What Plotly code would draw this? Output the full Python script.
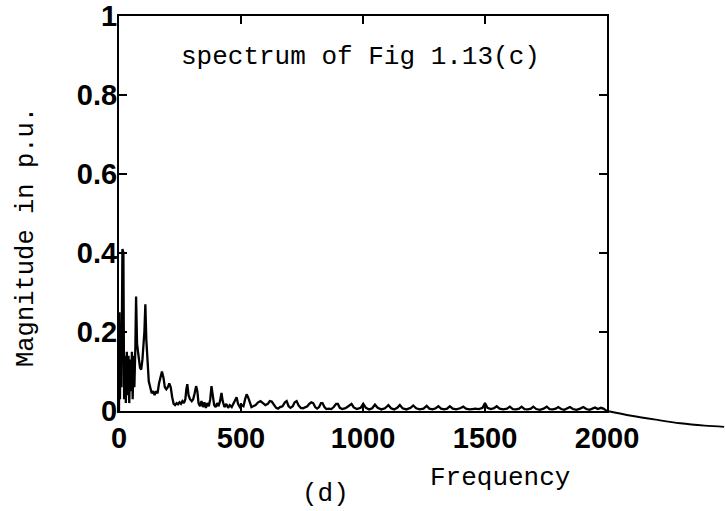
import plotly.graph_objects as go

# ---------------- data ----------------
freq = [
    0, 2, 4, 7, 10, 14, 18, 21, 25, 28, 32, 35, 39, 42, 46, 49, 53, 56, 60, 63,
    67, 70, 74, 80, 86, 91, 96, 104, 108, 112, 117, 122, 128, 134, 140, 146, 152, 158, 164, 170,
    176, 182, 188, 194, 200, 206, 212, 218, 224, 230, 236, 242, 248, 254, 260, 266, 272, 276, 280, 285,
    291, 298, 304, 310, 316, 321, 326, 332, 338, 344, 350, 356, 362, 368, 374, 379, 384, 390, 396, 402,
    408, 414, 420, 425, 432, 440, 447, 454, 462, 470, 477, 482, 488, 495, 502, 510, 517, 523, 529, 536,
    543, 550, 560, 570, 580, 590, 600, 610, 618, 626, 635, 644, 652, 660, 670, 680, 687, 695, 703, 712,
    720, 728, 736, 745, 754, 763, 772, 780, 788, 796, 804, 812, 820, 828, 834, 842, 850, 860, 870, 880,
    890, 897, 905, 915, 928, 940, 953, 962, 975, 990, 1001, 1012, 1025, 1038, 1049, 1060, 1075, 1090, 1104, 1115,
    1128, 1140, 1151, 1162, 1178, 1195, 1206, 1218, 1232, 1248, 1261, 1272, 1285, 1298, 1309, 1320, 1333, 1345, 1356, 1368,
    1382, 1398, 1411, 1422, 1436, 1448, 1460, 1475, 1490, 1500, 1510, 1524, 1537, 1548, 1560, 1575, 1590, 1602, 1614, 1627,
    1640, 1650, 1662, 1675, 1688, 1698, 1710, 1725, 1740, 1753, 1765, 1778, 1790, 1800, 1812, 1825, 1838, 1848, 1860, 1875,
    1890, 1903, 1915, 1928, 1940, 1951, 1962, 1975, 1985, 1992, 2000,
]
magnitude = [
    0.0, 0.25, 0.03, 0.22, 0.06, 0.41, 0.40, 0.03, 0.14, 0.02, 0.15, 0.04, 0.14, 0.02, 0.13, 0.05, 0.15, 0.03, 0.14, 0.06,
    0.16, 0.29, 0.17, 0.13, 0.11, 0.105, 0.13, 0.20, 0.27, 0.18, 0.11, 0.075, 0.06, 0.045, 0.05, 0.04, 0.05, 0.045, 0.07, 0.09,
    0.10, 0.085, 0.06, 0.055, 0.06, 0.07, 0.06, 0.035, 0.018, 0.015, 0.02, 0.017, 0.022, 0.018, 0.025, 0.02, 0.03, 0.055, 0.068, 0.04,
    0.03, 0.025, 0.03, 0.045, 0.063, 0.05, 0.02, 0.012, 0.025, 0.01, 0.022, 0.008, 0.02, 0.012, 0.03, 0.063, 0.035, 0.015, 0.01, 0.02,
    0.012, 0.025, 0.046, 0.025, 0.01, 0.018, 0.008, 0.015, 0.01, 0.02, 0.03, 0.035, 0.018, 0.01, 0.015, 0.012, 0.03, 0.042, 0.035, 0.02,
    0.01, 0.012, 0.015, 0.022, 0.025, 0.02, 0.015, 0.018, 0.025, 0.024, 0.015, 0.008, 0.006, 0.01, 0.012, 0.022, 0.025, 0.012, 0.008, 0.012,
    0.022, 0.025, 0.014, 0.008, 0.007, 0.01, 0.012, 0.018, 0.022, 0.02, 0.01, 0.006, 0.01, 0.02, 0.02, 0.01, 0.005, 0.006, 0.005, 0.01,
    0.018, 0.018, 0.008, 0.005, 0.007, 0.012, 0.018, 0.009, 0.005, 0.008, 0.018, 0.008, 0.004, 0.007, 0.016, 0.008, 0.004, 0.007, 0.015, 0.007,
    0.004, 0.008, 0.015, 0.007, 0.004, 0.008, 0.014, 0.007, 0.004, 0.006, 0.013, 0.006, 0.004, 0.007, 0.012, 0.006, 0.004, 0.006, 0.012, 0.006,
    0.004, 0.007, 0.011, 0.006, 0.004, 0.005, 0.006, 0.005, 0.008, 0.02, 0.008, 0.005, 0.007, 0.012, 0.006, 0.004, 0.006, 0.011, 0.005, 0.004,
    0.006, 0.011, 0.005, 0.004, 0.006, 0.011, 0.005, 0.003, 0.006, 0.011, 0.005, 0.004, 0.006, 0.01, 0.005, 0.003, 0.006, 0.01, 0.005, 0.003,
    0.006, 0.01, 0.005, 0.003, 0.006, 0.009, 0.005, 0.008, 0.006, 0.004, 0.0,
]

# stray trace continuing past the frame (scan of neighbouring figure)
tail_freq = [2000, 2100, 2200, 2300, 2400, 2480]
tail_mag = [0.0, -0.012, -0.022, -0.031, -0.037, -0.040]

x_tickvals = [0, 500, 1000, 1500, 2000]
x_ticktext = ["0", "500", "1000", "1500", "2000"]
y_tickvals = [0, 0.2, 0.4, 0.6, 0.8, 1]
y_ticktext = ["0", "0.2", "0.4", "0.6", "0.8", "1"]

title_text = "spectrum of Fig 1.13(c)"
x_title = "Frequency"
y_title = "Magnitude in p.u."
panel_label = "(d)"

# ---------------- layout geometry (pixels) ----------------
W, H = 725, 511
L, T = 119, 16           # plot-area left / top
FRAME_R, FRAME_B = 607, 411
AREA_R, AREA_B = 725, 432

area_w = AREA_R - L
area_h = AREA_B - T


def px(xp):
    return (xp - L) / area_w


def py(yp):
    return (AREA_B - yp) / area_h


mono = "Liberation Mono"
tickfont = dict(family="Liberation Sans", size=29, color="black", weight="bold")

fig = go.Figure()
fig.add_trace(go.Scatter(x=freq, y=magnitude, mode="lines",
                         line=dict(color="black", width=2.3),
                         xaxis="x", yaxis="y", showlegend=False))
fig.add_trace(go.Scatter(x=tail_freq, y=tail_mag, mode="lines",
                         line=dict(color="black", width=1.8, shape="spline"),
                         xaxis="x2", yaxis="y2", showlegend=False))

axis_common = dict(showline=True, linecolor="black", linewidth=2, mirror="ticks",
                   ticks="inside", ticklen=8, tickwidth=2, tickcolor="black",
                   showgrid=False, zeroline=False, tickfont=tickfont,
                   automargin=False, ticklabeloverflow="allow")

x_main_max = 2000
fig.update_layout(
    template="none",
    width=W, height=H,
    margin=dict(l=L, r=W - AREA_R, t=T, b=H - AREA_B, pad=0, autoexpand=False),
    paper_bgcolor="white", plot_bgcolor="rgba(0,0,0,0)",
    showlegend=False,
    xaxis=dict(domain=[0, px(FRAME_R)], range=[0, x_main_max],
               tickvals=x_tickvals, ticktext=x_ticktext, anchor="y",
               ticklabelstandoff=0, **axis_common),
    yaxis=dict(domain=[py(FRAME_B), 1], range=[0, 1],
               tickvals=y_tickvals, ticktext=y_ticktext, anchor="x",
               ticklabelstandoff=-6, **axis_common),
    xaxis2=dict(domain=[0, 1], visible=False, anchor="y2", automargin=False,
                range=[0, x_main_max * area_w / (FRAME_R - L)]),
    yaxis2=dict(domain=[0, 1], visible=False, anchor="x2", automargin=False,
                range=[-(AREA_B - FRAME_B) / (FRAME_B - T), 1]),
)

text_font = dict(family=mono, size=26, color="black")
fig.add_annotation(text=title_text, xref="paper", yref="paper",
                   x=px(360), y=py(57), showarrow=False,
                   xanchor="center", yanchor="middle", font=text_font)
fig.add_annotation(text=x_title, xref="paper", yref="paper",
                   x=px(500), y=py(478), showarrow=False,
                   xanchor="center", yanchor="middle", font=text_font)
fig.add_annotation(text=panel_label, xref="paper", yref="paper",
                   x=px(325), y=py(494), showarrow=False,
                   xanchor="center", yanchor="middle", font=text_font)
fig.add_annotation(text=y_title, xref="paper", yref="paper",
                   x=px(26), y=py(237), showarrow=False, textangle=-90,
                   xanchor="center", yanchor="middle",
                   font=dict(family=mono, size=25.5, color="black"))

fig.write_html("out.html",
               config={"displayModeBar": False},
               post_script="document.body.style.margin='0px';")
